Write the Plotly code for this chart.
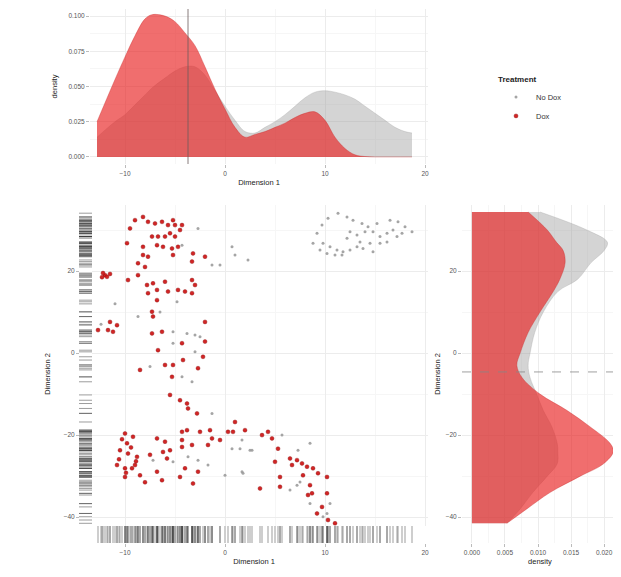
import plotly.graph_objects as go

# ---------------- data ----------------
dox_x = [-9.0, -8.2, -9.5, -7.7, -7.0, -6.3, -5.7, -5.2, -5.0, -4.3, -4.5, -7.3, -6.7, -6.0, -5.5, -5.0,
         -9.8, -8.2, -6.8, -6.2, -5.3, -4.7, -8.2, -7.7, -5.2, -3.2, -2.0, -3.3, -8.7, -8.0, -9.7, -8.7,
         -7.8, -7.2, -6.0, -6.8, -7.7, -5.7, -4.7, -4.0, -3.3, -3.0, -3.3, -6.8, -7.3, -7.2, -2.0, -11.5,
         -12.7, -11.7, -10.8, -11.2, -7.3, -6.3, -6.7, -4.3, -2.0, -12.0, -12.2, -11.8, -11.5, -12.3,
         -8.5, -6.0, -5.2, -4.2, -2.2, -5.3, -2.7, -5.5, -4.5, -3.8, -3.7, -2.8, 1.0, -10.0, -9.2, -9.8,
         -10.5, -9.7, -8.8, -9.0, -10.0, -9.3, -8.5, -10.8, -10.0, -6.8, -6.0, -6.2, -5.5, -5.8, -4.3,
         -3.8, -4.3, -4.3, -3.3, -2.5, -1.5, -1.3, -0.5, 0.3, 2.0, -1.7, -6.8, -6.3, -4.5, -4.0, -3.2,
         -2.7, 0.8, 3.7, 4.3, 4.7, 5.3, 5.0, 6.5, 7.2, 7.7, 8.2, 8.8, 9.3, 10.2, 6.7, 5.5, 7.8, 8.5,
         8.3, 8.7, 10.2, 5.5, 3.5, 9.2, 10.3, 11.0, 9.7, -10.3, -9.4, -8.9, -10.6, -9.9, -8.0, -7.5]
dox_y = [32.4, 33.2, 30.4, 32.0, 31.6, 32.0, 31.2, 32.4, 31.2, 31.2, 30.0, 28.4, 28.4, 28.4, 29.2, 28.4,
         26.8, 25.9, 26.3, 25.9, 25.5, 25.9, 23.9, 23.5, 23.9, 24.3, 23.5, 22.3, 21.9, 21.0, 17.8, 19.0,
         16.6, 17.0, 17.4, 15.4, 14.6, 15.0, 15.4, 15.0, 17.8, 16.6, 14.6, 12.9, 10.1, 8.9, 7.6, 7.6,
         5.6, 5.6, 6.8, 5.2, 4.8, 5.2, 0.7, 2.4, 2.8, 19.0, 19.5, 18.6, 19.3, 18.5,
         -4.1, -2.9, -2.9, -1.7, -0.9, -5.8, -3.7, -10.2, -11.5, -12.3, -13.5, -14.7, -16.8, -19.6, -20.4, -22.0,
         -23.7, -24.5, -25.3, -27.3, -28.1, -28.1, -29.8, -27.3, -30.2, -20.8, -21.6, -24.1, -23.7, -25.7, -19.2,
         -18.8, -21.2, -22.9, -22.4, -19.2, -18.8, -20.8, -21.2, -19.2, -18.8, -22.4, -28.9, -31.0, -30.2, -28.1, -31.8,
         -28.9, -19.2, -20.0, -19.2, -20.8, -23.3, -26.5, -25.7, -26.1, -26.9, -27.7, -28.1, -29.3, -30.2, -27.3, -30.2, -29.8, -32.2,
         -34.6, -34.2, -34.2, -32.6, -33.0, -39.1, -40.7, -41.5, -37.5, -21.0, -23.0, -26.4, -25.9, -29.2, -31.5, -24.8]

nodox_x = [-2.7, -4.3, -1.3, -0.5, 1.0, 0.7, 2.3, -8.7, -5.2, -3.8, -3.0, -2.5, -5.2, -3.0,
           9.7, 10.3, 11.3, 12.2, 12.8, 13.7, 14.3, 15.2, 16.5, 17.3, 18.0, 18.7, 17.7, 16.8, 16.2, 15.5,
           14.8, 14.0, 13.2, 12.5, 12.2, 13.5, 14.5, 15.5, 16.2, 17.2, 8.8, 9.8, 10.5, 11.2, 11.8, 12.5,
           10.2, 11.0, 11.7, 14.8, 13.8, 13.2, 9.2, 9.5,
           -7.5, -4.3, -3.3, -1.3, 1.7, 2.7, 0.7, -1.7, 0.0, 1.7, -7.2, -5.2, -3.7, -2.7,
           1.5, 2.5, 1.8, 5.7, 7.3, 8.5, 7.2, 7.5, 6.5, 10.5, 10.2, 8.5, 9.8, -12.4, -11.0, -6.5, -4.8]
nodox_y = [30.4, 26.3, 21.5, 21.5, 23.9, 25.9, 22.7, 8.9, 5.2, 4.8, 4.4, 4.0, 2.4, 0.3,
           31.2, 32.9, 34.1, 33.2, 32.4, 31.6, 30.8, 31.6, 32.4, 32.0, 30.8, 29.6, 29.2, 30.0, 29.2, 28.4,
           29.6, 29.6, 28.8, 29.6, 28.0, 27.1, 26.8, 26.8, 27.1, 28.4, 26.8, 26.8, 25.9, 25.1, 24.7, 25.1,
           24.3, 23.9, 23.9, 24.7, 25.5, 25.9, 29.2, 25.1,
           -3.3, -5.8, -7.0, -14.7, -21.2, -23.7, -23.3, -27.3, -29.8, -28.9, -26.1, -26.5, -25.3, -26.1,
           -23.3, -23.7, -29.3, -20.0, -23.7, -22.0, -32.2, -31.4, -33.4, -36.7, -39.1, -36.7, -39.9, 7.0, 12.0, 10.0, 12.5]

# marginal densities along Dimension 1 (top panel)
dim1_grid = [-12.8, -11.0, -10.0, -9.0, -8.0, -7.3, -6.0, -5.0, -4.0, -3.0, -2.0, -1.0, 0.0, 1.0, 2.0,
             3.0, 4.0, 5.0, 6.0, 7.0, 8.0, 9.0, 10.0, 11.0, 12.0, 13.0, 14.0, 15.0, 16.0, 17.0, 18.0, 18.7]
dens1_dox = [0.025, 0.055, 0.071, 0.086, 0.098, 0.101, 0.100, 0.096, 0.088, 0.079, 0.064, 0.048, 0.034, 0.021, 0.014,
             0.016, 0.018, 0.021, 0.024, 0.028, 0.031, 0.032, 0.026, 0.014, 0.006, 0.0015, 0.0003, 0.0, 0.0, 0.0, 0.0, 0.0]
dens1_nodox = [0.014, 0.025, 0.030, 0.037, 0.044, 0.049, 0.056, 0.061, 0.064, 0.064, 0.058, 0.047, 0.036, 0.026, 0.018,
               0.017, 0.021, 0.025, 0.030, 0.036, 0.042, 0.046, 0.047, 0.046, 0.044, 0.041, 0.036, 0.031, 0.026, 0.021, 0.018, 0.017]

# marginal densities along Dimension 2 (right panel)
dim2_grid = [34.4, 30.0, 27.0, 25.0, 22.0, 18.0, 15.0, 10.0, 5.0, 0.0, -3.0, -6.0, -10.0, -14.0, -18.0,
             -22.0, -24.0, -27.0, -30.0, -34.0, -38.0, -41.5]
dens2_dox = [0.0085, 0.0114, 0.0128, 0.0138, 0.0141, 0.0133, 0.0123, 0.0103, 0.0085, 0.0073, 0.0068, 0.0076, 0.0103, 0.0144, 0.0179,
             0.0209, 0.0214, 0.0199, 0.0164, 0.0118, 0.0083, 0.0053]
dens2_nodox = [0.0103, 0.0174, 0.0205, 0.0200, 0.0180, 0.0160, 0.0130, 0.0108, 0.0095, 0.0088, 0.0085, 0.0088, 0.0098, 0.0108, 0.0121,
               0.0129, 0.0130, 0.0129, 0.0114, 0.0092, 0.0073, 0.0053]

dim1_ref = -3.7   # reference line (Dimension 1)
dim2_ref = -4.6   # dashed reference line (Dimension 2)

dim_ticks = [-10, 0, 10, 20]
dim2_ticks = [-40, -20, 0, 20]
dens1_ticks = [0.0, 0.025, 0.05, 0.075, 0.1]
dens1_ticklabels = ["0.000", "0.025", "0.050", "0.075", "0.100"]
dens2_ticks = [0.0, 0.005, 0.01, 0.015, 0.02]
dens2_ticklabels = ["0.000", "0.005", "0.010", "0.015", "0.020"]

# ---------------- styles / layout helpers ----------------
PAGE_OFF = 8                      # default body margin of the html page
W, H = 621 - PAGE_OFF, 577 - PAGE_OFF
RED_FILL = "rgba(232,32,32,0.65)"
RED_LINE = "rgba(200,40,40,0.45)"
GREY_FILL = "rgba(160,160,160,0.45)"
GREY_LINE = "rgba(160,160,160,0.4)"
RED_PT = "#cf1a1a"
GREY_PT = "#9b9b9b"
RUG = "rgba(60,60,60,0.5)"
GRID = "#ececec"
GRID_MINOR = "#f6f6f6"
FAM = "Liberation Sans, Arial, sans-serif"
TICKFONT = dict(family=FAM, size=6.5, color="#555555")
TITLEFONT = dict(family=FAM, size=7.5, color="#222222")


def hx(a, b):
    return [(a - PAGE_OFF) / W, (b - PAGE_OFF) / W]


def vy(top, bottom):
    return [1 - (bottom - PAGE_OFF) / H, 1 - (top - PAGE_OFF) / H]


def mids(t):
    step = t[1] - t[0]
    return [t[0] - step / 2] + [(a + b) / 2 for a, b in zip(t[:-1], t[1:])] + [t[-1] + step / 2]


def axis_style(ticks):
    return dict(showline=False, zeroline=False, gridcolor=GRID, gridwidth=0.7, tickfont=TICKFONT,
                ticks="outside", ticklen=3, tickcolor="#bbbbbb", tickwidth=0.6,
                minor=dict(tickvals=mids(ticks), showgrid=True, gridcolor=GRID_MINOR, gridwidth=0.5, ticks=""))


fig = go.Figure()

# top density
fig.add_trace(go.Scatter(x=dim1_grid, y=dens1_nodox, mode="lines", line=dict(color=GREY_LINE, width=0.8, shape="spline"),
                         fill="tozeroy", fillcolor=GREY_FILL, xaxis="x", yaxis="y", showlegend=False, hoverinfo="skip"))
fig.add_trace(go.Scatter(x=dim1_grid, y=dens1_dox, mode="lines", line=dict(color=RED_LINE, width=0.8, shape="spline"),
                         fill="tozeroy", fillcolor=RED_FILL, xaxis="x", yaxis="y", showlegend=False, hoverinfo="skip"))

# right density
fig.add_trace(go.Scatter(x=dens2_nodox, y=dim2_grid, mode="lines", line=dict(color=GREY_LINE, width=0.8, shape="spline"),
                         fill="tozerox", fillcolor=GREY_FILL, xaxis="x3", yaxis="y3", showlegend=False, hoverinfo="skip"))
fig.add_trace(go.Scatter(x=dens2_dox, y=dim2_grid, mode="lines", line=dict(color=RED_LINE, width=0.8, shape="spline"),
                         fill="tozerox", fillcolor=RED_FILL, xaxis="x3", yaxis="y3", showlegend=False, hoverinfo="skip"))

# scatter
fig.add_trace(go.Scatter(x=nodox_x, y=nodox_y, mode="markers", name="No Dox",
                         marker=dict(color=GREY_PT, size=3, opacity=0.9), xaxis="x2", yaxis="y2"))
fig.add_trace(go.Scatter(x=dox_x, y=dox_y, mode="markers", name="Dox",
                         marker=dict(color=RED_PT, size=4, opacity=0.95, line=dict(color="#8a0d0d", width=0.4)),
                         xaxis="x2", yaxis="y2"))

# rugs
all_x = nodox_x + dox_x
all_y = nodox_y + dox_y
fig.add_trace(go.Scatter(x=all_x, y=[0.5] * len(all_x), mode="markers", showlegend=False, hoverinfo="skip",
                         marker=dict(symbol="line-ns-open", size=15, color=RUG, line=dict(color=RUG, width=1)),
                         xaxis="x4", yaxis="y4"))
fig.add_trace(go.Scatter(x=[0.5] * len(all_y), y=all_y, mode="markers", showlegend=False, hoverinfo="skip",
                         marker=dict(symbol="line-ew-open", size=11, color=RUG, line=dict(color=RUG, width=1)),
                         xaxis="x5", yaxis="y5"))

# reference lines
fig.add_shape(type="line", xref="x", yref="y domain", x0=dim1_ref, x1=dim1_ref, y0=0, y1=1,
              line=dict(color="#6b5a5a", width=0.8))
fig.add_shape(type="line", xref="x3 domain", yref="y3", x0=0, x1=1, y0=dim2_ref, y1=dim2_ref,
              line=dict(color="#888888", width=0.8, dash="dash"))

fig.update_layout(
    width=W, height=H,
    margin=dict(l=0, r=0, t=0, b=0),
    paper_bgcolor="white", plot_bgcolor="white",
    font=dict(family=FAM),
    xaxis=dict(domain=hx(90, 428), range=[-13.5, 20.3], anchor="y", tickvals=dim_ticks,
               title=dict(text="Dimension 1", font=TITLEFONT, standoff=3), **axis_style(dim_ticks)),
    yaxis=dict(domain=vy(9, 164), range=[-0.005, 0.105], anchor="x", tickvals=dens1_ticks, ticktext=dens1_ticklabels,
               title=dict(text="density", font=TITLEFONT, standoff=9), **axis_style(dens1_ticks)),
    xaxis2=dict(domain=hx(80, 428), range=[-14.5, 20.3], anchor="y2", tickvals=dim_ticks,
                title=dict(text="Dimension 1", font=TITLEFONT, standoff=3), **axis_style(dim_ticks)),
    yaxis2=dict(domain=vy(205, 543), range=[-46.3, 36.1], anchor="x2", tickvals=dim2_ticks,
                title=dict(text="Dimension 2", font=TITLEFONT, standoff=12), **axis_style(dim2_ticks)),
    xaxis3=dict(domain=hx(462, 618), range=[-0.0015, 0.0221], anchor="y3", tickvals=dens2_ticks, ticktext=dens2_ticklabels,
                title=dict(text="density", font=TITLEFONT, standoff=3), **axis_style(dens2_ticks)),
    yaxis3=dict(domain=vy(205, 543), range=[-46.3, 36.1], anchor="x3", tickvals=dim2_ticks,
                title=dict(text="Dimension 2", font=TITLEFONT, standoff=4), **axis_style(dim2_ticks)),
    xaxis4=dict(domain=hx(80, 428), range=[-14.5, 20.3], anchor="y4", visible=False),
    yaxis4=dict(domain=vy(526, 543), range=[0, 1], anchor="x4", visible=False),
    xaxis5=dict(domain=hx(79, 92), range=[0, 1], anchor="y5", visible=False),
    yaxis5=dict(domain=vy(205, 543), range=[-46.3, 36.1], anchor="x5", visible=False),
    legend=dict(x=(496 - PAGE_OFF) / W, y=1 - (72 - PAGE_OFF) / H, xanchor="left", yanchor="top",
                title=dict(text="<b>Treatment</b>", font=dict(family=FAM, size=8, color="#222222")),
                font=dict(family=FAM, size=7.5, color="#333333"), itemsizing="trace", tracegroupgap=0,
                itemwidth=30, bgcolor="rgba(0,0,0,0)"),
)

fig.write_html("out.html")
